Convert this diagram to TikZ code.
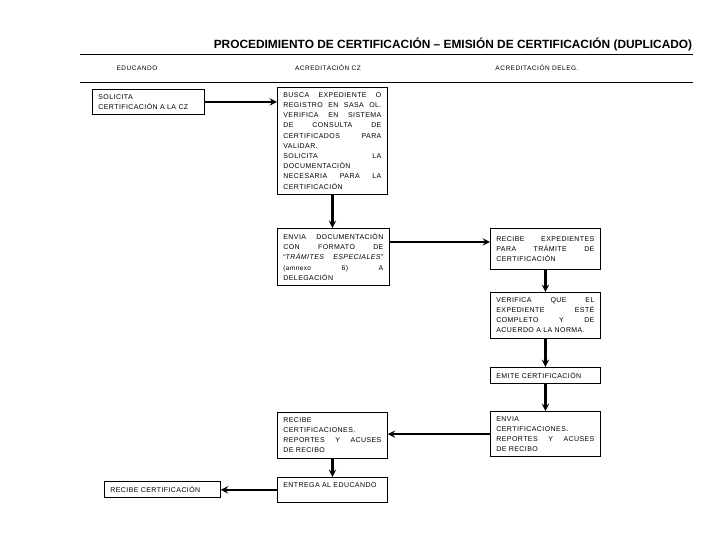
\documentclass[tikz,border=0pt]{standalone}
\usepackage{fontspec}
\setmainfont{Liberation Sans}
\newfontfamily\flowfont[LetterSpace=6]{Liberation Sans}
\newfontfamily\headfont[LetterSpace=8]{Liberation Sans}
\begin{document}
\begin{tikzpicture}[x=1pt, y=-1pt, >=stealth,
  flowbox/.style={draw, line width=0.8pt, anchor=north west, align=justify,
    inner xsep=6pt, inner ysep=5pt, font=\flowfont\fontsize{7}{10.2}\selectfont},
  lane/.style={font=\headfont\fontsize{6.5}{7}\selectfont},
  flow/.style={->, line width=2.2pt}]
  \useasboundingbox (0,0) rectangle (720,540);
  \node[font=\bfseries\fontsize{11.9}{13}\selectfont] (title) at (453,44)
    {PROCEDIMIENTO DE CERTIFICACIÓN – EMISIÓN DE CERTIFICACIÓN (DUPLICADO)};
  \draw (80,54) -- (693,54); \draw (80,82) -- (693,82);
  \foreach \x/\n/\t in {137/educando/EDUCANDO, 328/cz/ACREDITACIÓN CZ,
                        537/deleg/ACREDITACIÓN DELEG.}
    { \node[lane] (\n) at (\x,68) {\t}; }
  % columna educando
  \node[flowbox, text width=100pt] (solicita) at (92,89)
    {SOLICITA\\ CERTIFICACIÓN A LA CZ};
  \node[flowbox, text width=104pt] (recibe) at (104,481) {RECIBE CERTIFICACIÓN};
  % columna cz
  \node[flowbox, text width=98pt] (busca) at (277,87)
    {BUSCA EXPEDIENTE O\linebreak REGISTRO EN SASA OL.\linebreak
     VERIFICA EN SISTEMA\linebreak DE CONSULTA DE\linebreak
     CERTIFICADOS PARA\linebreak VALIDAR.\\ SOLICITA LA\linebreak
     DOCUMENTACIÓN\\ NECESARIA PARA LA\linebreak CERTIFICACIÓN};
  \node[flowbox, text width=100pt] (envia) at (277,228)
    {ENVIA DOCUMENTACIÓN\linebreak CON FORMATO DE\linebreak
     “\textit{TRÁMITES ESPECIALES}”\linebreak
     {\fontsize{6.5}{10.2}\selectfont(amnexo} 6) A\linebreak DELEGACIÓN};
  \node[flowbox, text width=98pt] (recibecert) at (277,412)
    {RECIBE\\ CERTIFICACIONES.\\ REPORTES Y ACUSES\linebreak DE RECIBO};
  \node[flowbox, text width=98pt, text depth=10pt] (entrega) at (277,477)
    {ENTREGA AL EDUCANDO};
  % columna delegacion
  \node[flowbox, text width=98pt, minimum height=41pt] (recibeexp) at (490,228)
    {RECIBE EXPEDIENTES\linebreak PARA TRÁMITE DE\linebreak CERTIFICACIÓN};
  \node[flowbox, text width=98pt] (verifica) at (490,292)
    {VERIFICA QUE EL\linebreak EXPEDIENTE ESTÉ\linebreak COMPLETO Y DE\linebreak
     ACUERDO A LA NORMA.};
  \node[flowbox, text width=98pt] (emite) at (490,367) {EMITE CERTIFICACIÓN};
  \node[flowbox, text width=98pt] (enviacert) at (490,411)
    {ENVIA\\ CERTIFICACIONES.\\ REPORTES Y ACUSES\linebreak DE RECIBO};
  % flechas
  \draw[flow] (solicita.east) -- (solicita.east -| busca.west);
  \foreach \a/\b in {busca/envia, recibeexp/verifica, verifica/emite,
                     emite/enviacert, recibecert/entrega}
    { \draw[flow] (\a.south) -- (\a.south |- \b.north); }
  \draw[flow] ([yshift=7pt]recibeexp.west -| envia.east) -- ([yshift=7pt]recibeexp.west);
  \draw[flow] (enviacert.west) -- (enviacert.west -| recibecert.east);
  \draw[flow] (entrega.west) -- (entrega.west -| recibe.east);
\end{tikzpicture}
\end{document}
